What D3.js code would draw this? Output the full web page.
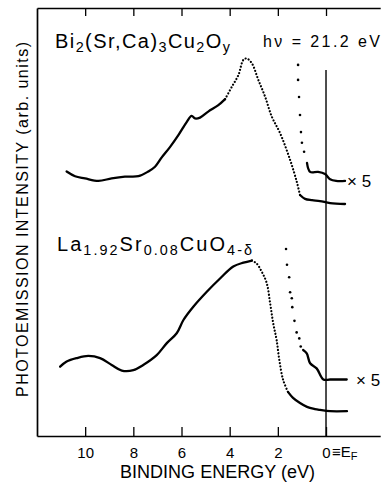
<!DOCTYPE html>
<html lang="en">
<head>
<meta charset="utf-8">
<title>Photoemission spectra</title>
<script src="https://d3js.org/d3.v7.min.js"></script>
<style>
    body { margin: 0; background: white; }
    text { font-family: "Liberation Sans", Arial, sans-serif; fill: black; }
    .axis path, .axis line { stroke: black; }
    .spectrum { fill: none; stroke: black; stroke-linejoin: round; stroke-linecap: round; }
</style>
</head>
<body>
<div id="chart"></div>
<script>
    var W = 381, H = 482;

    // tick values on the energy axis (eV)
    var energyTicks = [10, 8, 6, 4, 2, 0];

    // spectra: [binding energy (eV), intensity (arb. units)]
    var biMain = [[10.77,61.8],[10.42,60.7],[10.01,60.2],[9.45,59.6],[8.90,60.2],[8.35,60.6],[7.79,60.7],
        [7.38,61.8],[7.10,62.9],[6.82,65.1],[6.48,67.5],[6.13,70.3],[5.78,73.4],[5.58,74.8],[5.44,74.2],
        [5.23,74.4],[4.89,75.8],[4.47,77.3],[4.19,78.7],[3.91,81.6],[3.64,84.3],[3.43,87.9],[3.29,88.2],
        [3.08,87.1],[2.81,83.2],[2.53,79.3],[2.25,74.6],[1.91,70.8],[1.49,64.5],[1.21,59.3],[1.08,56.3],
        [0.87,55.4],[0.58,55.1],[0.25,54.9],[-0.17,54.4],[-0.79,54.2]];
    var biX5Sparse = [[1.16,86.7],[1.16,83.2],[1.12,79.2],[1.08,75.0],[1.04,71.0],[1.00,68.5],[0.91,66.4]];
    var biX5Dense = [[0.79,63.8],[0.66,61.7],[0.33,61.7],[0.04,61.2],[-0.17,60.0],[-0.42,59.6],[-0.79,59.6]];

    var lscoMain = [[11.04,16.2],[10.77,17.4],[10.35,18.2],[9.87,18.7],[9.38,18.2],[8.90,16.6],[8.48,15.3],
        [8.00,15.4],[7.59,16.6],[7.03,18.9],[6.61,21.7],[6.20,24.0],[5.92,27.1],[5.51,30.2],[4.95,33.7],
        [4.40,36.8],[3.85,39.6],[3.43,40.5],[3.08,41.0],[2.88,40.3],[2.67,38.4],[2.46,35.7],[2.32,31.0],
        [2.19,26.3],[2.05,22.4],[1.94,17.8],[1.78,13.1],[1.58,10.3],[1.37,8.9],[1.08,7.7],[0.79,6.8],
        [0.46,6.3],[0.25,6.1],[-0.17,5.8],[-0.87,5.8]];
    var lscoX5Sparse = [[1.66,43.7],[1.62,40.0],[1.53,37.1],[1.49,33.6],[1.42,32.2],[1.40,30.1],[1.31,26.9],
        [1.22,24.2],[1.11,22.8],[1.05,20.9]];
    var lscoX5Dense = [[0.95,20.1],[0.80,19.3],[0.66,17.0],[0.39,15.8],[0.11,13.2],[-0.17,13.2],[-0.86,13.2]];

    // Fermi level marker: top of the vertical line (arb. units)
    var fermiTop = 85.5;

    var svg = d3.select("#chart").append("svg")
        .attr("width", W)
        .attr("height", H);

    var x = d3.scaleLinear().domain([12, -2.25]).range([37, 380.2]);
    var y = d3.scaleLinear().domain([0, 100]).range([436, 8]);

    // bottom axis, ticks pointing inwards
    var bottomAxis = svg.append("g")
        .attr("class", "axis")
        .attr("transform", `translate(0, ${y(0)})`)
        .call(d3.axisBottom(x).tickValues(energyTicks).tickSizeInner(-9).tickSizeOuter(0)
            .tickPadding(11).tickFormat(d3.format("d")));
    bottomAxis.select(".domain").attr("stroke-width", 1.7);
    bottomAxis.selectAll(".tick line").attr("stroke-width", 1.3);
    bottomAxis.selectAll(".tick text").attr("font-size", 15).attr("font-family", null);

    // "≡ E_F" after the zero label
    var ef = svg.append("text")
        .attr("x", x(0) + 6)
        .attr("y", 457)
        .attr("font-size", 15);
    ef.append("tspan").text("\u2261E");
    ef.append("tspan").attr("font-size", 11).attr("dy", 3).text("F");

    // top frame with ticks
    var topAxis = svg.append("g")
        .attr("class", "axis")
        .attr("transform", `translate(0, ${y(100)})`)
        .call(d3.axisTop(x).tickValues(energyTicks).tickSizeInner(-8).tickSizeOuter(0).tickFormat(""));
    topAxis.select(".domain").attr("stroke-width", 1.5);
    topAxis.selectAll(".tick line").attr("stroke-width", 1.3);

    // left frame
    var leftAxis = svg.append("g")
        .attr("class", "axis")
        .attr("transform", `translate(${x(12)}, 0)`)
        .call(d3.axisLeft(y).tickValues([]).tickSizeOuter(0));
    leftAxis.select(".domain").attr("stroke-width", 1.7);

    // Fermi level line
    svg.append("line")
        .attr("x1", x(0)).attr("x2", x(0))
        .attr("y1", y(fermiTop)).attr("y2", y(0))
        .attr("stroke", "black")
        .attr("stroke-width", 1.4);

    // spectra
    var line = d3.line()
        .x(d => x(d[0]))
        .y(d => y(d[1]))
        .curve(d3.curveCatmullRom.alpha(0.5));

    function segments(pts, lo, hi) {
        var out = [], cur = null;
        pts.forEach(function (p) {
            var dotted = p[0] >= lo && p[0] <= hi;
            if (!cur || cur.dotted !== dotted) {
                var prev = cur ? cur.pts[cur.pts.length - 1] : null;
                cur = { dotted: dotted, pts: prev ? [prev] : [] };
                out.push(cur);
            }
            cur.pts.push(p);
        });
        return out;
    }

    function drawSpectrum(pts, lo, hi) {
        segments(pts, lo, hi).forEach(function (s) {
            svg.append("path")
                .attr("class", "spectrum")
                .attr("d", line(s.pts))
                .attr("stroke-width", s.dotted ? 2.2 : 2.3)
                .attr("stroke-dasharray", s.dotted ? "0.1,3.2" : null);
        });
    }

    function drawDots(pts) {
        svg.append("g").selectAll("circle")
            .data(pts).enter()
            .append("circle")
            .attr("cx", d => x(d[0]))
            .attr("cy", d => y(d[1]))
            .attr("r", 1.3)
            .attr("fill", "black");
    }

    drawSpectrum(biMain, 1.0, 3.95);
    drawDots(biX5Sparse);
    drawSpectrum(biX5Dense, 9, 9);
    drawSpectrum(lscoMain, 1.5, 2.9);
    drawDots(lscoX5Sparse);
    drawSpectrum(lscoX5Dense, 9, 9);

    // labels with subscripts
    function formula(xp, yp, size, parts, len) {
        var t = svg.append("text")
            .attr("x", xp).attr("y", yp)
            .attr("font-size", size);
        var shifted = false;
        parts.forEach(function (p) {
            var sub = p[1] === "sub";
            var ts = t.append("tspan").text(p[0]);
            if (sub) {
                ts.attr("font-size", size * 0.72).attr("dy", shifted ? 0 : 4);
                shifted = true;
            } else if (shifted) {
                ts.attr("dy", -4);
                shifted = false;
            }
        });
        if (len) t.attr("textLength", len).attr("lengthAdjust", "spacing");
        return t;
    }

    formula(55, 47.5, 20, [["Bi"], ["2", "sub"], ["(Sr,Ca)"], ["3", "sub"], ["Cu"], ["2", "sub"], ["O"], ["y", "sub"]], 175);
    formula(57, 251, 20, [["La"], ["1.92", "sub"], ["Sr"], ["0.08", "sub"], ["CuO"], ["4-\u03b4", "sub"]], 195);

    svg.append("text")
        .attr("x", 263).attr("y", 46.5)
        .attr("font-size", 16)
        .attr("textLength", 117).attr("lengthAdjust", "spacing")
        .text("h\u03bd = 21.2 eV");

    svg.append("text")
        .attr("x", 347).attr("y", 187)
        .attr("font-size", 17)
        .text("\u00d7 5");
    svg.append("text")
        .attr("x", 356).attr("y", 386)
        .attr("font-size", 17)
        .text("\u00d7 5");

    // axis titles
    svg.append("text")
        .attr("x", 217.5).attr("y", 478)
        .attr("text-anchor", "middle")
        .attr("font-size", 18)
        .attr("textLength", 195).attr("lengthAdjust", "spacing")
        .text("BINDING ENERGY (eV)");

    svg.append("text")
        .attr("transform", "translate(28, 219.5) rotate(-90)")
        .attr("text-anchor", "middle")
        .attr("font-size", 16)
        .attr("textLength", 355).attr("lengthAdjust", "spacing")
        .text("PHOTOEMISSION INTENSITY (arb. units)");
</script>
</body>
</html>
